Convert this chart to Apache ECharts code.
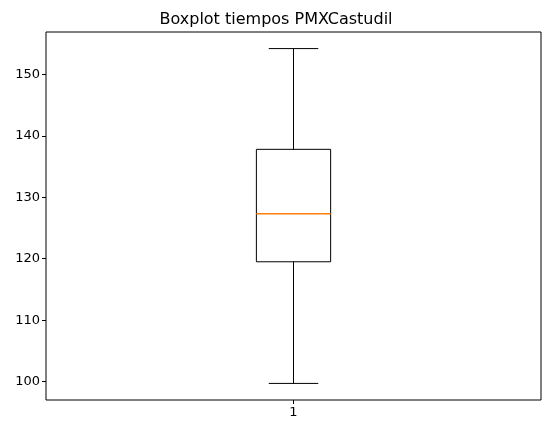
<!DOCTYPE html>
<html><head><meta charset="utf-8">
<script src="https://cdn.jsdelivr.net/npm/echarts@6/dist/echarts.min.js"></script>
<style>html,body{margin:0;padding:0;background:#fff}#c{width:552px;height:435px}</style>
</head><body><div id="c"></div>
<script>
const categories = ['1'];
const boxValues = [[99.7, 119.5, 127.3, 137.8, 154.2]]; // min, Q1, median, Q3, max
const title = 'Boxplot tiempos PMXCastudil';

const chart = echarts.init(document.getElementById('c'));
const data = categories.map((c, i) => [i].concat(boxValues[i]));
chart.setOption({
  animation: false,
  title: {text: title, left: 'center', top: 7, textStyle: {fontFamily: 'DejaVu Sans', fontSize: 16, fontWeight: 'normal', color: '#000'}},
  grid: {left: 46, right: 11, top: 32, bottom: 35, show: true, borderColor: '#000', borderWidth: 1},
  xAxis: {type: 'category', data: categories, boundaryGap: true,
    axisLine: {show: false}, axisTick: {show: true, alignWithLabel: true, length: 4, lineStyle: {color: '#000'}},
    axisLabel: {fontFamily: 'DejaVu Sans', fontSize: 13, color: '#000', margin: 6}},
  yAxis: {type: 'value', min: 97.0, max: 156.9, splitLine: {show: false},
    axisLine: {show: false}, axisTick: {show: true, length: 4, lineStyle: {color: '#000'}},
    axisLabel: {fontFamily: 'DejaVu Sans', fontSize: 13, color: '#000', margin: 6,
      showMinLabel: false, showMaxLabel: false,
      formatter: v => (Math.abs(v % 10) < 1e-6 ? String(v) : '')}},
  series: [{
    type: 'custom',
    data: data,
    encode: {x: 0, y: [1, 2, 3, 4, 5]},
    renderItem: (params, api) => {
      const x = api.value(0);
      const bw = api.size([1, 0])[0];
      const half = bw * 0.075, cap = bw * 0.05;
      const p = k => api.coord([x, api.value(k)]);
      const lo = p(1), q1 = p(2), med = p(3), q3 = p(4), hi = p(5);
      const cx = lo[0];
      const st = {stroke: '#000', lineWidth: 1, fill: null};
      return {type: 'group', children: [
        {type: 'line', shape: {x1: cx, y1: lo[1], x2: cx, y2: q1[1]}, style: st},
        {type: 'line', shape: {x1: cx, y1: q3[1], x2: cx, y2: hi[1]}, style: st},
        {type: 'line', shape: {x1: cx - cap, y1: lo[1], x2: cx + cap, y2: lo[1]}, style: st},
        {type: 'line', shape: {x1: cx - cap, y1: hi[1], x2: cx + cap, y2: hi[1]}, style: st},
        {type: 'rect', shape: {x: cx - half, y: q3[1], width: 2 * half, height: q1[1] - q3[1]}, style: st},
        {type: 'line', shape: {x1: cx - half, y1: med[1], x2: cx + half, y2: med[1]}, style: {stroke: '#ff7f0e', lineWidth: 1.5}}
      ]};
    }
  }]
});
</script></body></html>
